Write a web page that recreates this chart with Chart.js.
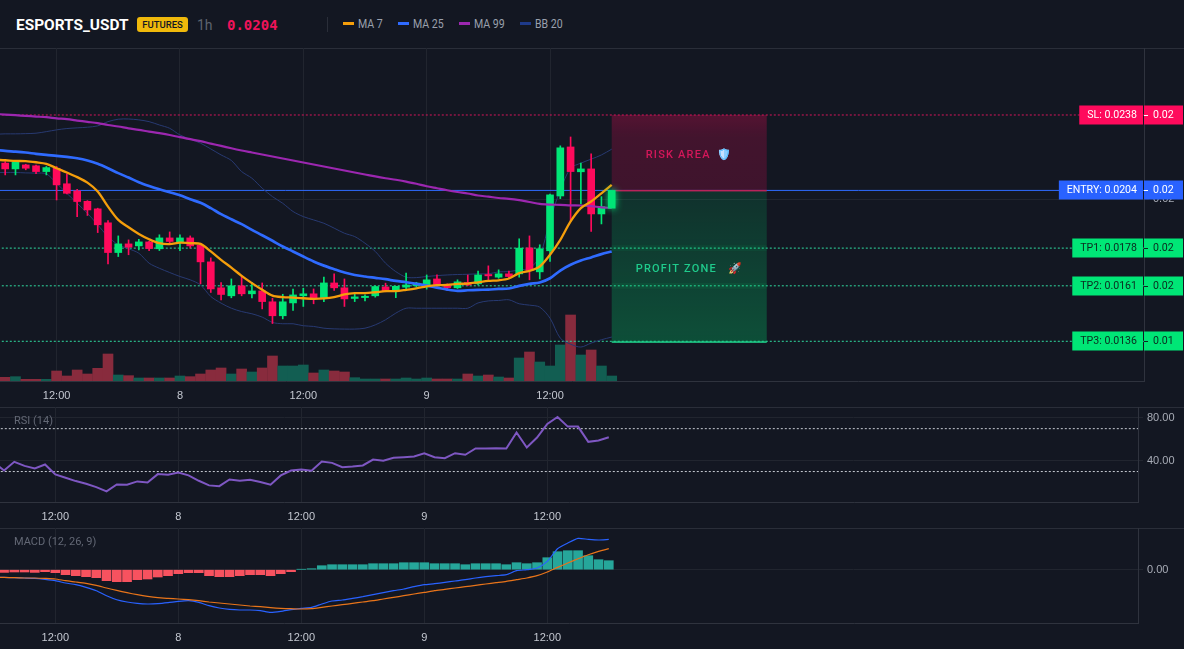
<!DOCTYPE html>
<html>
<head>
<meta charset="utf-8">
<title>ESPORTS_USDT</title>
<script src="https://cdn.jsdelivr.net/npm/chart.js@4/dist/chart.umd.min.js"></script>
<style>
  html, body { margin: 0; padding: 0; background: #131722; width: 1184px; height: 649px; overflow: hidden; }
  #page { position: relative; width: 1184px; height: 649px; font-family: Roboto, sans-serif; }
  canvas { position: absolute; left: 0; }
  .head { position: absolute; white-space: nowrap; }
  .rule { position: absolute; left: 0; width: 1184px; height: 1px; background: #2a2e39; }
  .swatch { position: absolute; top: 22px; width: 11px; height: 3px; }
  .legend { position: absolute; top: 16px; font-size: 12px; line-height: 16px; color: #9aa0ad; transform: scaleX(0.88); transform-origin: left; }
</style>
</head>
<body>
<div id="page">
  <div class="head" style="left:16px;top:15px;font:700 15.4px/20px Roboto;color:#fff">ESPORTS_USDT</div>
  <div class="head" style="left:137px;top:17px;width:51px;height:15px;background:#f0b90b;border-radius:3px;text-align:center;font:500 9.5px/15px Roboto;color:#131722">FUTURES</div>
  <div class="head" style="left:197px;top:15px;font:14px/20px Roboto;color:#5d636f">1h</div>
  <div class="head" id="last_price" style="left:227px;top:15px;font:700 14px/20px 'DejaVu Sans Mono';color:#f0135a"></div>
  <div class="head" style="left:327px;top:17px;width:1px;height:15px;background:#2a2e39"></div>
  <div class="swatch" style="left:343px;background:#f59e0b"></div><div class="legend" style="left:358px">MA 7</div>
  <div class="swatch" style="left:398px;background:#2f6bff"></div><div class="legend" style="left:413px">MA 25</div>
  <div class="swatch" style="left:459px;background:#9c27b0"></div><div class="legend" style="left:474px">MA 99</div>
  <div class="swatch" style="left:520px;background:#1e3a8a"></div><div class="legend" style="left:535px">BB 20</div>
  <div class="rule" style="top:48px"></div>
  <div class="rule" style="top:407px"></div>
  <div class="rule" style="top:528px"></div>
  <canvas id="main_chart" width="1184" height="359" style="top:48px"></canvas>
  <canvas id="rsi_chart" width="1184" height="121" style="top:407px"></canvas>
  <canvas id="macd_chart" width="1184" height="121" style="top:528px"></canvas>
  <div class="head" style="left:14px;top:414px;font:11px/14px Roboto;color:#636875">RSI (14)</div>
  <div class="head" style="left:14px;top:535px;font:11px/14px Roboto;color:#636875">MACD (12, 26, 9)</div>
</div>

<script>
// hourly candles, first entry sits just left of the visible range
const hours = [-1,0,1,2,3,4,5,6,7,8,9,10,11,12,13,14,15,16,17,18,19,20,21,22,23,24,25,26,27,28,29,30,31,32,33,34,35,36,37,38,39,40,41,42,43,44,45,46,47,48,49,50,51,52,53,54,55,56,57,58,59];

const opens = [0.02170,0.02163,0.02137,0.02155,0.02151,0.02125,0.02140,0.02070,0.02038,0.01991,0.01957,0.01894,0.01760,0.01799,0.01790,0.01808,0.01777,0.01826,0.01805,0.01826,0.01793,0.01718,0.01601,0.01565,0.01610,0.01574,0.01587,0.01538,0.01475,0.01533,0.01565,0.01574,0.01554,0.01623,0.01601,0.01553,0.01557,0.01565,0.01605,0.01587,0.01604,0.01611,0.01613,0.01641,0.01613,0.01601,0.01625,0.01619,0.01661,0.01649,0.01664,0.01664,0.01781,0.01673,0.01768,0.02015,0.02236,0.02124,0.02137,0.01934,0.01960];
const highs = [0.02175,0.02170,0.02167,0.02158,0.02154,0.02148,0.02148,0.02115,0.02045,0.01994,0.01960,0.01904,0.01835,0.01817,0.01820,0.01811,0.01840,0.01853,0.01840,0.01835,0.01802,0.01736,0.01625,0.01641,0.01656,0.01626,0.01623,0.01554,0.01572,0.01595,0.01599,0.01596,0.01649,0.01664,0.01641,0.01572,0.01569,0.01610,0.01622,0.01608,0.01668,0.01626,0.01659,0.01659,0.01619,0.01637,0.01659,0.01677,0.01700,0.01682,0.01677,0.01822,0.01835,0.01795,0.02023,0.02241,0.02281,0.02163,0.02205,0.02012,0.02040];
const lows = [0.02150,0.02110,0.02110,0.02133,0.02115,0.02110,0.01997,0.02024,0.01922,0.01927,0.01850,0.01709,0.01742,0.01750,0.01772,0.01769,0.01769,0.01802,0.01769,0.01780,0.01619,0.01580,0.01547,0.01556,0.01565,0.01556,0.01506,0.01440,0.01461,0.01499,0.01517,0.01529,0.01539,0.01589,0.01517,0.01539,0.01542,0.01559,0.01583,0.01557,0.01596,0.01604,0.01595,0.01601,0.01589,0.01598,0.01611,0.01614,0.01632,0.01644,0.01647,0.01649,0.01637,0.01641,0.01720,0.02003,0.01901,0.01979,0.01855,0.01889,0.01960];
const closes = [0.02163,0.02137,0.02167,0.02140,0.02125,0.02143,0.02065,0.02027,0.01990,0.01952,0.01885,0.01760,0.01799,0.01784,0.01808,0.01778,0.01826,0.01810,0.01826,0.01790,0.01718,0.01596,0.01571,0.01610,0.01574,0.01587,0.01539,0.01475,0.01538,0.01569,0.01574,0.01553,0.01623,0.01601,0.01551,0.01560,0.01563,0.01607,0.01587,0.01608,0.01614,0.01622,0.01637,0.01616,0.01602,0.01628,0.01614,0.01659,0.01655,0.01664,0.01652,0.01780,0.01679,0.01777,0.02020,0.02232,0.02125,0.02137,0.01934,0.01967,0.02040];
const volumes = [10,11,13,5,5,5,30,15,33,21,38,81,18,16,9,9,9,9,15,13,21,33,39,21,36,27,39,75,45,45,48,24,33,30,27,10,6,6,6,6,9,6,9,6,6,6,21,15,18,12,9,69,87,57,45,108,198,78,93,45,15];

const ma7 = [0.02178,0.02176,0.02173,0.02172,0.02167,0.02160,0.02140,0.02121,0.02100,0.02075,0.02035,0.01967,0.01907,0.01874,0.01844,0.01820,0.01802,0.01798,0.01805,0.01802,0.01799,0.01765,0.01727,0.01692,0.01655,0.01622,0.01592,0.01566,0.01559,0.01557,0.01554,0.01551,0.01553,0.01559,0.01571,0.01577,0.01577,0.01581,0.01586,0.01586,0.01592,0.01599,0.01608,0.01613,0.01614,0.01619,0.01620,0.01626,0.01632,0.01635,0.01643,0.01667,0.01677,0.01697,0.01750,0.01817,0.01900,0.01960,0.01990,0.02027,0.02065];
const ma25 = [0.02223,0.02218,0.02215,0.02211,0.02205,0.02200,0.02196,0.02191,0.02185,0.02175,0.02160,0.02140,0.02118,0.02098,0.02077,0.02060,0.02045,0.02032,0.02018,0.02000,0.01984,0.01960,0.01933,0.01910,0.01888,0.01862,0.01838,0.01813,0.01787,0.01765,0.01742,0.01720,0.01701,0.01685,0.01670,0.01659,0.01652,0.01646,0.01640,0.01632,0.01626,0.01619,0.01611,0.01602,0.01593,0.01587,0.01590,0.01592,0.01593,0.01596,0.01598,0.01610,0.01619,0.01625,0.01644,0.01679,0.01705,0.01724,0.01738,0.01753,0.01765];
const ma99 = [0.02385,0.02382,0.02379,0.02376,0.02373,0.02370,0.02365,0.02361,0.02355,0.02349,0.02343,0.02335,0.02328,0.02320,0.02313,0.02305,0.02298,0.02290,0.02280,0.02271,0.02262,0.02251,0.02241,0.02230,0.02220,0.02211,0.02202,0.02193,0.02184,0.02175,0.02166,0.02157,0.02148,0.02139,0.02130,0.02121,0.02112,0.02103,0.02095,0.02088,0.02080,0.02070,0.02059,0.02050,0.02041,0.02033,0.02026,0.02017,0.02012,0.02006,0.02002,0.01996,0.01988,0.01979,0.01976,0.01975,0.01973,0.01972,0.01969,0.01964,0.01961];
const bbUpper = [0.02293,0.02295,0.02295,0.02296,0.02298,0.02305,0.02313,0.02319,0.02322,0.02325,0.02331,0.02350,0.02361,0.02362,0.02358,0.02350,0.02335,0.02320,0.02290,0.02271,0.02253,0.02227,0.02200,0.02175,0.02125,0.02095,0.02050,0.02012,0.01982,0.01945,0.01922,0.01907,0.01892,0.01870,0.01847,0.01832,0.01802,0.01765,0.01712,0.01674,0.01649,0.01647,0.01652,0.01656,0.01659,0.01661,0.01662,0.01664,0.01664,0.01673,0.01674,0.01682,0.01689,0.01742,0.01907,0.02042,0.02140,0.02163,0.02181,0.02200,0.02226];
const bbLower = [0.02121,0.02121,0.02121,0.02119,0.02118,0.02115,0.02072,0.02027,0.01982,0.01937,0.01885,0.01832,0.01795,0.01777,0.01757,0.01712,0.01689,0.01670,0.01652,0.01637,0.01614,0.01562,0.01532,0.01509,0.01494,0.01484,0.01469,0.01445,0.01439,0.01439,0.01430,0.01427,0.01419,0.01416,0.01415,0.01415,0.01419,0.01434,0.01457,0.01487,0.01509,0.01509,0.01509,0.01509,0.01509,0.01509,0.01509,0.01533,0.01542,0.01544,0.01547,0.01529,0.01523,0.01514,0.01464,0.01374,0.01347,0.01334,0.01352,0.01367,0.01379];

const rsiValues = [38.8,31.0,39.1,35.3,32.9,36.6,27.3,24.2,21.1,18.6,15.5,11.5,18.0,17.7,20.8,19.8,27.6,27.0,29.1,26.4,21.4,17.1,16.4,22.6,21.4,22.3,20.2,17.7,26.4,31.0,31.9,30.7,39.4,38.1,34.1,34.7,35.7,41.2,40.0,42.8,43.4,44.0,47.1,43.4,42.5,47.1,45.6,51.5,51.5,51.8,51.5,66.4,52.4,61.7,74.4,80.9,71.9,71.9,57.7,58.9,62.0];

// macd series are in units of 1e-5
const macdLine = [-7.7,-7.7,-8,-8.3,-8.7,-9.7,-11,-13.3,-15,-17.7,-21,-26,-30,-32.3,-33.7,-34.3,-34,-33,-31.7,-31,-32.7,-36,-38.3,-39.7,-40.3,-40.3,-41,-42.7,-41.7,-40,-38.7,-37.7,-34.3,-31.3,-30.3,-28.7,-27,-25,-23,-21,-19.3,-17,-15,-14,-12.7,-11.3,-10,-8.3,-7,-6,-5,-1,0,1.7,8.3,21,26.7,31.3,30.3,29.7,30.3];
const macdSignal = [-7.7,-7.7,-8,-8.3,-8.3,-8.7,-9.3,-11,-12.3,-13.7,-15.7,-18.3,-20.7,-23,-25,-26.7,-28,-28.7,-29.3,-30,-31,-32.3,-33.3,-34.3,-35.3,-36.3,-37,-38,-38.7,-39,-39.3,-39,-37.7,-36.3,-35,-33.7,-32.3,-31,-29.3,-27.7,-26,-24.3,-22.7,-21,-19.7,-18.3,-17,-15.7,-14.3,-13,-11.7,-10,-8.3,-6,-2.3,2.3,6.7,11,15,18.3,21];
const macdHist = [-2.5,-2.7,-2.3,-2.3,-2.7,-2,-3,-5,-6,-7,-8,-11,-12,-12,-10,-9.3,-7.3,-6,-4,-3,-3,-6,-7,-7,-6,-5,-5,-6,-4,-2,0.3,1,4,5,5,5,5,6,6,6,7,7,7,6,6,6,5,6,6,6,5,7,6,7,12,18,19,19,14,10,9];

const xTickHours = [5, 17, 29, 41, 53];
const xTickLabels = ['12:00', '8', '12:00', '9', '12:00'];

const levelNames = ['SL', 'ENTRY', 'TP1', 'TP2', 'TP3'];
const levelPrices = [0.0238, 0.0204, 0.0178, 0.0161, 0.0136];
const levelColors = ['#ff0a5c', '#2962ff', '#00e676', '#00e676', '#00e676'];
const levelText = ['#ffffff', '#ffffff', '#0b2a1f', '#0b2a1f', '#0b2a1f'];

const UP = '#00e676', DOWN = '#ff0a5c';
const GRID = '#21252f', AXIS = '#2f333e';

Chart.defaults.font.family = "'Liberation Sans', Arial, sans-serif";
Chart.defaults.font.size = 11;
Chart.defaults.animation = false;

document.getElementById('last_price').textContent = closes[closes.length - 1].toFixed(4);

function xy(values) {
    return values.map((v, i) => ({ x: hours[i], y: v }));
}

function flat(y) {
    return [{ x: -5, y: y }, { x: 120, y: y }];
}

function lineSet(values, color, width, order) {
    return {
        type: 'line', data: xy(values), borderColor: color, borderWidth: width,
        pointRadius: 0, tension: 0.3, order: order
    };
}

function levelSet(y, color, dash, order) {
    return {
        type: 'line', data: flat(y), borderColor: color, borderWidth: 1,
        borderDash: dash, pointRadius: 0, tension: 0, order: order
    };
}

function xAxis(min, max) {
    return {
        type: 'linear', min: min, max: max, offset: false,
        grid: { color: GRID, offset: false, drawTicks: false },
        border: { color: AXIS },
        afterBuildTicks: s => { s.ticks = xTickHours.map(v => ({ value: v })); },
        afterFit: s => { s.height = 26; s.paddingLeft = 0; s.paddingRight = 0; },
        ticks: {
            autoSkip: false, maxRotation: 0, padding: 8, color: '#c4c8d1',
            callback: v => xTickLabels[xTickHours.indexOf(v)]
        }
    };
}

function yAxis(min, max, tickValues, digits, width) {
    return {
        type: 'linear', position: 'right', min: min, max: max,
        grid: { color: GRID, tickLength: 5 },
        border: { color: AXIS },
        afterBuildTicks: s => { s.ticks = tickValues.map(v => ({ value: v })); },
        afterFit: s => { s.width = width; s.paddingTop = 0; s.paddingBottom = 0; },
        ticks: { padding: 4, color: '#a9adb7', callback: v => v.toFixed(digits) }
    };
}

// risk / profit boxes right of the last candle, painted just before it
const ZONE_FROM = 59, ZONE_TO = 74.08;
const zonesPlugin = {
    id: 'zones',
    beforeDatasetDraw(chart, args) {
        if (args.meta.label !== 'last') return;
        const c = chart.ctx, x = chart.scales.x, y = chart.scales.y;
        const left = x.getPixelForValue(ZONE_FROM), right = x.getPixelForValue(ZONE_TO);
        const top = y.getPixelForValue(levelPrices[0]);
        const mid = y.getPixelForValue(levelPrices[1]);
        const bottom = y.getPixelForValue(levelPrices[4]);

        c.save();
        let g = c.createLinearGradient(0, top, 0, mid);
        g.addColorStop(0, 'rgba(255,10,92,0.28)');
        g.addColorStop(0.3, 'rgba(255,10,92,0.20)');
        g.addColorStop(1, 'rgba(255,10,92,0.19)');
        c.fillStyle = g;
        c.fillRect(left, top, right - left, mid - top);
        g = c.createLinearGradient(0, mid, 0, bottom);
        g.addColorStop(0, 'rgba(0,230,118,0.13)');
        g.addColorStop(1, 'rgba(0,230,118,0.27)');
        c.fillStyle = g;
        c.fillRect(left, mid, right - left, bottom - mid);

        // soft bands along TP1 and TP2
        c.fillStyle = 'rgba(0,230,118,0.06)';
        [levelPrices[2], levelPrices[3]].forEach(p => {
            c.fillRect(left, y.getPixelForValue(p) - 3, right - left, 6);
        });

        c.fillStyle = '#b8245a';
        c.fillRect(left, mid - 0.5, right - left, 1.5);
        c.fillStyle = '#1fd68c';
        c.fillRect(left, bottom, right - left, 1.5);

        c.font = "500 11px Roboto";
        c.letterSpacing = '1.2px';
        c.textBaseline = 'middle';
        c.textAlign = 'left';
        c.fillStyle = '#d4175a';
        c.fillText('RISK AREA', left + 34, top + 40.5);
        c.fillStyle = '#1fcb8c';
        c.fillText('PROFIT ZONE', left + 24, mid + 78.5);
        c.letterSpacing = '0px';
        c.fillText('\u{1F680}', left + 116, mid + 78.5);
        // blue tint for the shield
        c.filter = 'sepia(1) saturate(6) hue-rotate(175deg)';
        c.fillText('\u{1F6E1}\uFE0F', left + 105, top + 40.5);
        c.restore();

        // glow on the running candle
        c.save();
        c.shadowColor = UP;
        c.shadowBlur = 7;
    },
    afterDatasetDraw(chart, args) {
        if (args.meta.label === 'last') chart.ctx.restore();
    }
};

// price tags on top of the axis
const tagsPlugin = {
    id: 'tags',
    afterDraw(chart) {
        const c = chart.ctx, y = chart.scales.y;
        const edge = chart.chartArea.right;
        c.save();
        c.font = '10.6px Roboto';
        c.textBaseline = 'middle';
        levelPrices.forEach((p, i) => {
            const py = Math.round(y.getPixelForValue(p));
            const label = levelNames[i] + ': ' + p.toFixed(4);
            const w = c.measureText(label).width + 14;
            c.fillStyle = levelColors[i];
            c.fillRect(edge - 1 - w, py - 9.5, w, 19);
            c.fillRect(edge, py - 9.5, 39, 19);
            c.fillStyle = levelText[i];
            c.fillRect(edge, py, 4, 1);
            c.textAlign = 'left';
            c.fillText(label, edge - 1 - w + 8, py + 0.5);
            c.fillText(p.toFixed(2), edge + 9, py + 0.5);
        });
        c.restore();
    }
};

const lastIdx = hours.length - 1;
const candleColors = closes.map((v, i) => (v >= opens[i] ? UP : DOWN));
const volumeColors = closes.map((v, i) => (v >= opens[i] ? '#125e52' : '#882b3d'));

new Chart(document.getElementById('main_chart'), {
    type: 'bar',
    data: {
        datasets: [
            { label: 'volume', data: xy(volumes), yAxisID: 'vol', backgroundColor: volumeColors, barThickness: 10, grouped: false, order: 12 },
            levelSet(levelPrices[0], '#d6155c', [2, 2], 11),
            levelSet(levelPrices[1], '#2f6bff', [], 11),
            levelSet(levelPrices[2], '#2fdca0', [2, 2], 11),
            levelSet(levelPrices[3], '#2fdca0', [2, 2], 11),
            levelSet(levelPrices[4], '#2fdca0', [2, 2], 11),
            lineSet(bbUpper, '#283a72', 1, 10),
            lineSet(bbLower, '#283a72', 1, 10),
            { label: 'wicks', data: hours.slice(0, lastIdx).map((h, i) => ({ x: h, y: [lows[i], highs[i]] })), backgroundColor: candleColors, barThickness: 1, grouped: false, order: 9 },
            { label: 'bodies', data: hours.slice(0, lastIdx).map((h, i) => ({ x: h, y: [opens[i], closes[i]] })), backgroundColor: candleColors, barThickness: 7, grouped: false, order: 8 },
            lineSet(ma99, '#9c27b0', 2.2, 7),
            lineSet(ma25, '#2f6bff', 2.7, 6),
            lineSet(ma7, '#f59e0b', 2.3, 5),
            { label: 'last', data: [{ x: hours[lastIdx], y: [opens[lastIdx], closes[lastIdx]] }], backgroundColor: UP, barThickness: 7, grouped: false, order: 1 }
        ]
    },
    options: {
        responsive: false,
        layout: { padding: 0 },
        plugins: { legend: { display: false }, tooltip: { enabled: false } },
        scales: {
            x: xAxis(-0.506, 110.78),
            y: yAxis(0.01181, 0.02682, [0.02], 2, 40),
            vol: { type: 'linear', display: false, min: 0, max: 999 }
        }
    },
    plugins: [zonesPlugin, tagsPlugin]
});

new Chart(document.getElementById('rsi_chart'), {
    type: 'line',
    data: {
        datasets: [
            levelSet(70, '#c8ccd4', [2, 2], 3),
            levelSet(30, '#c8ccd4', [2, 2], 3),
            { data: xy(rsiValues), borderColor: '#7e57c2', borderWidth: 2, pointRadius: 0, tension: 0, order: 1 }
        ]
    },
    options: {
        responsive: false,
        layout: { padding: 0 },
        plugins: { legend: { display: false }, tooltip: { enabled: false } },
        scales: {
            x: xAxis(-0.395, 110.63),
            y: yAxis(1.6, 90.2, [40, 80], 2, 46)
        }
    }
});

new Chart(document.getElementById('macd_chart'), {
    type: 'bar',
    data: {
        datasets: [
            { data: xy(macdHist), backgroundColor: macdHist.map(v => (v < 0 ? '#f7525f' : '#26a69a')), barThickness: 9, grouped: false, order: 3 },
            { type: 'line', data: xy(macdLine), borderColor: '#2962ff', borderWidth: 1.2, pointRadius: 0, tension: 0.2, order: 2 },
            { type: 'line', data: xy(macdSignal), borderColor: '#e8741a', borderWidth: 1.2, pointRadius: 0, tension: 0.2, order: 1 }
        ]
    },
    options: {
        responsive: false,
        layout: { padding: 0 },
        plugins: { legend: { display: false }, tooltip: { enabled: false } },
        scales: {
            x: xAxis(-0.395, 110.63),
            y: yAxis(-53.3, 41.7, [0], 2, 46)
        }
    }
});
</script>
</body>
</html>
